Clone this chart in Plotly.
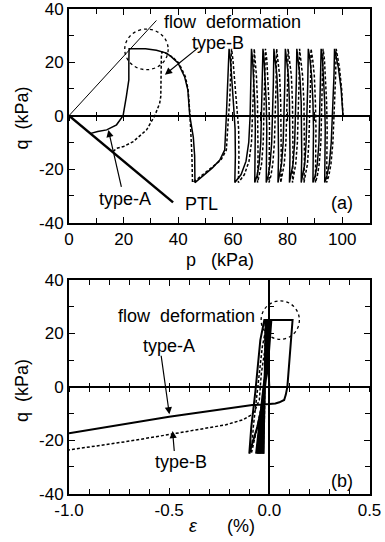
import plotly.graph_objects as go

# ---------------- Panel (a): effective stress paths q-p ----------------
# type-A (solid)
p_typeA = [100.3, 99.6, 98.6, 97.2,
           97.0, 96.7, 96.4, 96.0, 95.3, 94.4, 93.6,
           93.8, 93.8, 93.6, 93.2, 92.8, 92.3,
           92.1, 91.9, 91.5, 90.9, 90.1, 89.3,
           89.5, 89.5, 89.3, 88.8, 88.2, 87.6,
           87.4, 87.2, 86.8, 86.3, 85.6, 85.0,
           85.2, 85.2, 85.0, 84.5, 84.0, 83.4,
           83.2, 83.0, 82.6, 82.0, 81.3, 80.7,
           80.9, 80.9, 80.7, 80.3, 79.8, 79.2,
           79.0, 78.8, 78.4, 77.8, 77.1, 76.5,
           76.7, 76.7, 76.5, 76.1, 75.6, 75.0,
           74.8, 74.6, 74.2, 73.6, 72.9, 72.2,
           72.4, 72.4, 72.2, 71.8, 71.4, 71.0,
           70.8, 70.6, 70.2, 69.6, 68.8, 68.0,
           68.2, 68.2, 68.0, 67.6, 67.2, 66.8,
           66.6, 66.3, 65.8, 64.8, 63.0, 60.7,
           60.9, 60.8, 60.3, 59.6, 59.1, 58.6,
           58.3, 57.9, 57.6, 57.0, 55.2, 52.5, 50.3, 48.0, 46.1,
           46.0, 45.5, 44.2, 43.5, 42.3, 39.9, 37.5, 35.7, 32.0, 28.0, 24.0, 22.0,
           21.9, 21.9, 21.0, 19.8, 17.4, 13.8, 10.5, 8.0]
q_typeA = [0, 10, 18, 25,
           15, 5, 0, -10, -18, -22.5, -25,
           -15, -5, 5, 15, 21, 25,
           12, 0, -10, -18, -22.5, -25,
           -15, -5, 5, 15, 21, 25,
           12, 0, -10, -18, -22.5, -25,
           -15, -5, 5, 15, 21, 25,
           12, 0, -10, -18, -22.5, -25,
           -15, -5, 5, 15, 21, 25,
           12, 0, -10, -18, -22.5, -25,
           -15, -5, 5, 15, 21, 25,
           12, 0, -10, -18, -22.5, -25,
           -15, -5, 5, 15, 21, 25,
           12, 0, -10, -18, -22.5, -25,
           -15, -5, 5, 15, 21, 25,
           12, 0, -10, -17, -22, -25,
           -15, -5, 3, 15, 21, 25,
           15, 5, 0, -12.8, -16.6, -19.5, -21.5, -23.5, -25,
           -15, -8, 0, 9.7, 14.6, 19.7, 22, 23.4, 24.5, 25, 25, 25,
           20, 13.4, 7.2, 0, -3.4, -5.3, -5.9, -6.6]

# type-B (dashed)
p_typeB = [100.3, 99.8, 99.0, 97.8,
           97.6, 97.3, 97.0, 96.6, 95.9, 95.1, 94.3,
           94.5, 94.5, 94.3, 93.9, 93.5, 93.0,
           92.8, 92.6, 92.2, 91.6, 90.9, 90.2,
           90.4, 90.4, 90.2, 89.8, 89.2, 88.6,
           88.4, 88.2, 87.8, 87.3, 86.6, 86.0,
           86.2, 86.2, 86.0, 85.5, 85.0, 84.4,
           84.2, 84.0, 83.6, 83.0, 82.4, 81.8,
           82.0, 82.0, 81.8, 81.4, 80.8, 80.2,
           80.0, 79.8, 79.4, 78.8, 78.1, 77.5,
           77.7, 77.7, 77.5, 77.1, 76.6, 76.0,
           75.8, 75.6, 75.2, 74.6, 73.9, 73.2,
           73.4, 73.4, 73.2, 72.8, 72.4, 71.9,
           71.7, 71.5, 71.1, 70.5, 69.7, 69.0,
           69.2, 69.2, 69.0, 68.6, 68.2, 67.8,
           67.6, 67.3, 66.8, 65.9, 64.2, 62.0,
           62.2, 62.1, 61.5, 60.6, 60.0, 59.5,
           59.2, 58.8, 58.4, 57.6, 55.6, 52.3, 49.6, 47.2, 45.2,
           45.0, 44.7, 44.3, 43.6, 42.6, 40.2, 37.8, 35.7, 34.0,
           33.8, 33.8, 33.6, 33.2, 31.4, 28.4, 23.5, 20.0, 17.4, 16.0]
q_typeB = [0, 10, 18, 25,
           15, 5, 0, -10, -18, -22.5, -25,
           -15, -5, 5, 15, 21, 25,
           12, 0, -10, -18, -22.5, -25,
           -15, -5, 5, 15, 21, 25,
           12, 0, -10, -18, -22.5, -25,
           -15, -5, 5, 15, 21, 25,
           12, 0, -10, -18, -22.5, -25,
           -15, -5, 5, 15, 21, 25,
           12, 0, -10, -18, -22.5, -25,
           -15, -5, 5, 15, 21, 25,
           12, 0, -10, -18, -22.5, -25,
           -15, -5, 5, 15, 21, 25,
           12, 0, -10, -18, -22.5, -25,
           -15, -5, 5, 15, 21, 25,
           12, 0, -10, -17, -22, -25,
           -15, -5, 3, 15, 21, 25,
           15, 5, 0, -12.8, -16.6, -19.5, -21.5, -23.5, -25,
           -15, -8, 0, 9.7, 14.6, 19.7, 22, 23.2, 23.8,
           22, 15, 7.2, 4.7, 0, -5.3, -9.7, -11.5, -12.2, -13.6]

# reference lines
flow_line_p = [0, 32.0]
flow_line_q = [0, 35.6]
ptl_p = [0, 38.1]
ptl_q = [0, -32.4]

# ---------------- Panel (b): q - axial strain ----------------
eps_typeA = [0.0, -0.018, -0.030, -0.014, -0.035, -0.010, -0.040, -0.006, -0.045,
             -0.002, -0.050, 0.002, -0.055, 0.005, -0.060, 0.008, -0.066, 0.010,
             -0.005, -0.03, -0.06, -0.100,
             -0.09, -0.07, -0.045, -0.025,
             0.116, 0.105, 0.095, 0.09, 0.082, 0.074, 0.05, 0.03, 0.0, -0.04,
             -0.085, -0.5, -1.0]
qe_typeA = [0, 25, -25, 25, -25, 25, -25, 25, -25,
            25, -25, 25, -25, 25, -25, 25, -25, 25,
            10, -5, -15, -25,
            -15, -2, 17.5, 25,
            25, 15, 5, 0, -3, -4.9, -5.8, -6.2, -6.4, -6.6,
            -6.8, -11.2, -17.4]
eps_typeB = [0.0, -0.020, -0.028, -0.016, -0.033, -0.012, -0.038, -0.008, -0.043,
             -0.004, -0.048, 0.0, -0.053, 0.003, -0.058, 0.006, -0.064, 0.008,
             -0.01, -0.035, -0.06, -0.090,
             -0.08, -0.06, -0.035, -0.012,
             -0.02, -0.04, -0.05, -0.07, -0.09, -0.13, -0.217, -0.465, -0.714, -1.0]
qe_typeB = [0, 25, -25, 25, -25, 25, -25, 25, -25,
            25, -25, 25, -25, 25, -25, 25, -25, 25,
            10, -5, -15, -25,
            -15, -2, 15, 23.8,
            15, 5, -4.9, -8.5, -10.5, -12.3, -14.2, -17.4, -20.5, -23.6]

# ticks
p_tick_vals = [0, 20, 40, 60, 80, 100]
p_tick_text = ["0", "20", "40", "60", "80", "100"]
q_tick_vals = [-40, -20, 0, 20, 40]
q_tick_text = ["-40", "-20", "0", "20", "40"]
eps_tick_vals = [-1.0, -0.5, 0.0, 0.5]
eps_tick_text = ["-1.0", "-0.5", "0.0", "0.5"]

# highlighted "flow deformation" regions (dotted circles)
circle_a = [20.4, 36.3, 17.2, 32.4]      # p0, p1, q0, q1
circle_b = [-0.041, 0.15, 17.8, 32.2]    # eps0, eps1, q0, q1

assert len(p_typeA) == len(q_typeA)
assert len(p_typeB) == len(q_typeB)
assert len(eps_typeA) == len(qe_typeA)
assert len(eps_typeB) == len(qe_typeB)

FONT = "Liberation Sans, Arial, Helvetica, sans-serif"
DASH = "3px,2px"

fig = go.Figure()

# panel (a)
fig.add_trace(go.Scatter(x=flow_line_p, y=flow_line_q, mode="lines",
                         line=dict(color="black", width=1), xaxis="x", yaxis="y",
                         showlegend=False, hoverinfo="skip"))
fig.add_trace(go.Scatter(x=ptl_p, y=ptl_q, mode="lines",
                         line=dict(color="black", width=2.5), xaxis="x", yaxis="y",
                         showlegend=False, hoverinfo="skip"))
fig.add_trace(go.Scatter(x=p_typeB, y=q_typeB, mode="lines", name="type-B",
                         line=dict(color="black", width=1.5, dash=DASH),
                         xaxis="x", yaxis="y", showlegend=False))
fig.add_trace(go.Scatter(x=p_typeA, y=q_typeA, mode="lines", name="type-A",
                         line=dict(color="black", width=1.5),
                         xaxis="x", yaxis="y", showlegend=False))

# panel (b)
fig.add_trace(go.Scatter(x=eps_typeB, y=qe_typeB, mode="lines", name="type-B",
                         line=dict(color="black", width=1.5, dash=DASH),
                         xaxis="x2", yaxis="y2", showlegend=False))
fig.add_trace(go.Scatter(x=eps_typeA, y=qe_typeA, mode="lines", name="type-A",
                         line=dict(color="black", width=2),
                         xaxis="x2", yaxis="y2", showlegend=False))

# dummy traces so the overlay (zero-line tick) axes are created
for xa, ya in [("x3", "y"), ("x4", "y"), ("x5", "y2"), ("x6", "y2"), ("x2", "y3")]:
    fig.add_trace(go.Scatter(x=[None], y=[None], xaxis=xa, yaxis=ya,
                             showlegend=False, hoverinfo="skip"))

XDOM = [69 / 385, 369.5 / 385]
YDOM_A = [1 - 222.7 / 542, 1 - 8.7 / 542]
YDOM_B = [1 - 493.7 / 542, 1 - 280 / 542]

tickfont = dict(family=FONT, size=17, color="black")
frame = dict(showline=True, linewidth=2, linecolor="black", mirror="ticks",
             ticks="inside", ticklen=6, tickwidth=1.3, tickcolor="black",
             showgrid=False, tickfont=tickfont, automargin=False,
             ticklabeloverflow="allow")

def minor(d, t0=0):
    return dict(tickmode="linear", tick0=t0, dtick=d, ticks="inside",
                ticklen=5, tickwidth=1.3, tickcolor="black", showgrid=False)

def zero_ticks(overlay, pos, rng, d, side_ticks):
    return dict(overlaying=overlay, anchor="free", position=pos, range=rng,
                tickmode="linear", tick0=0, dtick=d, ticks=side_ticks, ticklen=4,
                tickwidth=1.3, tickcolor="black", showticklabels=False,
                showline=False, showgrid=False, zeroline=False)

zero_a = (YDOM_A[0] + YDOM_A[1]) / 2
zero_b = (YDOM_B[0] + YDOM_B[1]) / 2
eps0_pos = XDOM[0] + (1.0 / 1.5) * (XDOM[1] - XDOM[0])

fig.update_layout(
    width=385, height=542,
    margin=dict(l=0, r=0, t=0, b=0),
    paper_bgcolor="white", plot_bgcolor="white",
    font=dict(family=FONT, size=17, color="black"),
    xaxis=dict(domain=XDOM, anchor="y", range=[0, 110], tickmode="array",
               tickvals=p_tick_vals, ticktext=p_tick_text, zeroline=False,
               minor=minor(10), **frame),
    yaxis=dict(domain=YDOM_A, anchor="x", range=[-40, 40], tickmode="array",
               tickvals=q_tick_vals, ticktext=q_tick_text, zeroline=True,
               zerolinewidth=2, zerolinecolor="black", minor=minor(10), **frame),
    xaxis2=dict(domain=XDOM, anchor="y2", range=[-1.0, 0.5], tickmode="array",
                tickvals=eps_tick_vals, ticktext=eps_tick_text, zeroline=True,
                zerolinewidth=2, zerolinecolor="black", minor=minor(0.1), **frame),
    yaxis2=dict(domain=YDOM_B, anchor="x2", range=[-40, 40], tickmode="array",
                tickvals=q_tick_vals, ticktext=q_tick_text, zeroline=True,
                zerolinewidth=2, zerolinecolor="black", minor=minor(10), **frame),
    xaxis3=zero_ticks("x", zero_a, [0, 110], 10, "outside"),
    xaxis4=zero_ticks("x", zero_a, [0, 110], 10, "inside"),
    xaxis5=zero_ticks("x2", zero_b, [-1.0, 0.5], 0.1, "outside"),
    xaxis6=zero_ticks("x2", zero_b, [-1.0, 0.5], 0.1, "inside"),
    yaxis3=zero_ticks("y2", eps0_pos, [-40, 40], 10, "inside"),
)

# dotted circles
fig.add_shape(type="circle", xref="x", yref="y",
              x0=circle_a[0], x1=circle_a[1], y0=circle_a[2], y1=circle_a[3],
              line=dict(color="black", width=1.3, dash="dot"))
fig.add_shape(type="circle", xref="x2", yref="y2",
              x0=circle_b[0], x1=circle_b[1], y0=circle_b[2], y1=circle_b[3],
              line=dict(color="black", width=1.3, dash="dot"))

afont = dict(family=FONT, size=18, color="black")

def label(text, x, y, xref, yref, size=18):
    fig.add_annotation(text=text, x=x, y=y, xref=xref, yref=yref, showarrow=False,
                       font=dict(family=FONT, size=size, color="black"),
                       xanchor="center", yanchor="middle")

def arrow(x, y, ax, ay, xref, yref):
    fig.add_annotation(text="", x=x, y=y, ax=ax, ay=ay, xref=xref, yref=yref,
                       axref=xref, ayref=yref, showarrow=True, arrowhead=2,
                       arrowsize=1.2, arrowwidth=1.2, arrowcolor="black")

# panel (a) labels
label("flow\u00a0\u00a0deformation", 59.9, 35.1, "x", "y")
label("type-B", 54.6, 27.2, "x", "y")
label("type-A", 20.5, -31.2, "x", "y")
label("PTL", 48.5, -33.0, "x", "y")
label("(a)", 100.1, -32.7, "x", "y")
arrow(35.1, 15.3, 47.9, 25.9, "x", "y")
arrow(14.4, -5.3, 19.3, -27.2, "x", "y")

# panel (b) labels
label("flow\u00a0\u00a0deformation", -0.412, 26.7, "x2", "y2")
label("type-A", -0.499, 15.3, "x2", "y2")
label("type-B", -0.439, -28.1, "x2", "y2")
label("(b)", 0.362, -35.2, "x2", "y2")
arrow(-0.499, -10.3, -0.541, 12.2, "x2", "y2")
arrow(-0.483, -16.5, -0.474, -24.6, "x2", "y2")

# axis titles
def ptitle(text, x, y, angle=0):
    fig.add_annotation(text=text, x=x, y=y, xref="paper", yref="paper",
                       showarrow=False, textangle=angle, font=afont,
                       xanchor="center", yanchor="middle")

ptitle("p\u00a0\u00a0\u00a0(kPa)", 220 / 385, 1 - 260 / 542)
ptitle("q\u00a0\u00a0(kPa)", 22 / 385, 1 - 118.5 / 542, angle=-90)
ptitle("q\u00a0\u00a0(kPa)", 22 / 385, 1 - 391 / 542, angle=-90)
ptitle("<i>ε</i>\u00a0\u00a0\u00a0\u00a0\u00a0\u00a0(%)", 222 / 385, 1 - 526 / 542)

fig.write_html("out.html")
